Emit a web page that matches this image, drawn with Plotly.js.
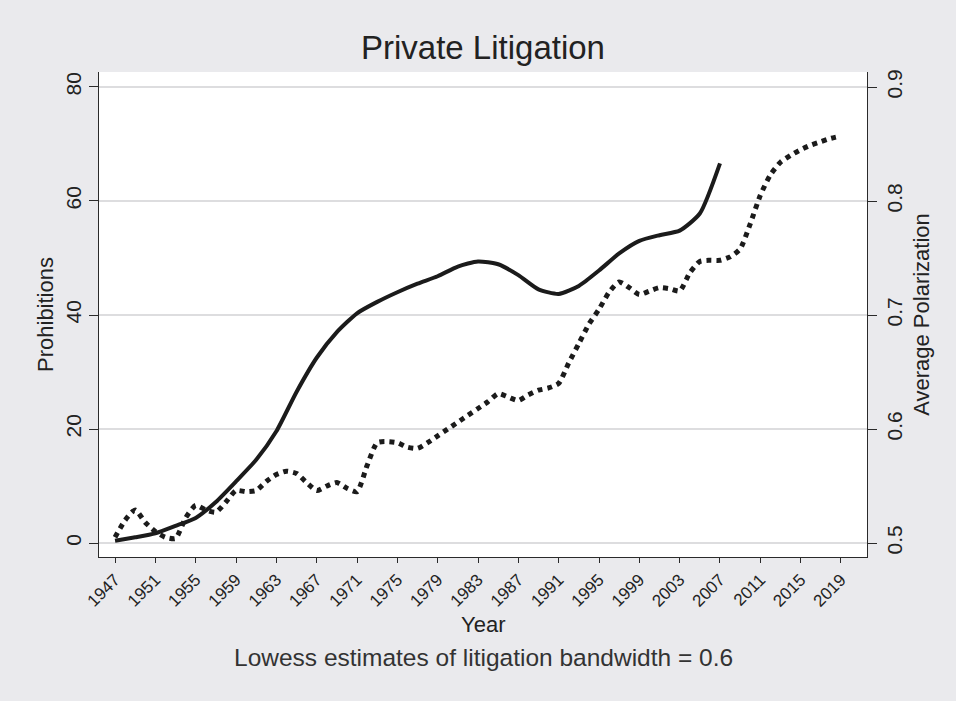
<!DOCTYPE html>
<html>
<head>
<meta charset="utf-8">
<script src="https://cdn.plot.ly/plotly-3.0.1.min.js"></script>
<style>
  html, body { margin: 0; padding: 0; background: #eaeaed; }
  #chart { width: 956px; height: 701px; }
</style>
</head>
<body>
<div id="chart"></div>
<script>
// Lowess estimate of private-litigation prohibitions (left axis)
const litigationYears = [1947,1949,1951,1953,1955,1957,1959,1961,1963,1965,1967,1969,1971,1973,1975,1977,1979,1981,1983,1985,1987,1989,1991,1993,1995,1997,1999,2001,2003,2005,2007];
const prohibitions = [0.4,1.0,1.7,3.0,4.4,7.2,10.8,14.6,19.6,26.5,32.5,37.0,40.3,42.3,44.0,45.5,46.8,48.5,49.4,48.9,47.0,44.5,43.7,45.1,47.8,50.8,53.0,54.0,54.8,57.8,66.6];

// Average polarization (right axis)
const polarizationYears = [1947,1948,1949,1950,1951,1952,1953,1954,1955,1956,1957,1958,1959,1960,1961,1962,1963,1964,1965,1966,1967,1968,1969,1970,1971,1972,1973,1974,1975,1976,1977,1978,1979,1980,1981,1982,1983,1984,1985,1986,1987,1988,1989,1990,1991,1992,1993,1994,1995,1996,1997,1998,1999,2000,2001,2002,2003,2004,2005,2006,2007,2008,2009,2010,2011,2012,2013,2014,2015,2016,2017,2018,2019];
const polarization = [0.505,0.520,0.529,0.518,0.510,0.505,0.504,0.522,0.533,0.529,0.527,0.536,0.546,0.545,0.546,0.554,0.560,0.563,0.561,0.553,0.546,0.550,0.553,0.548,0.545,0.568,0.588,0.589,0.588,0.584,0.583,0.588,0.594,0.600,0.606,0.612,0.618,0.624,0.631,0.628,0.625,0.630,0.634,0.636,0.640,0.658,0.675,0.692,0.705,0.720,0.729,0.724,0.718,0.721,0.724,0.723,0.721,0.737,0.747,0.748,0.748,0.751,0.758,0.780,0.805,0.823,0.834,0.840,0.845,0.849,0.852,0.855,0.857];

// Tick labels
const xTickYears = [1947,1951,1955,1959,1963,1967,1971,1975,1979,1983,1987,1991,1995,1999,2003,2007,2011,2015,2019];
const leftTicks = [0,20,40,60,80];
const rightTicks = [0.5,0.6,0.7,0.8,0.9];
const rightTickLabels = ['0.5','0.6','0.7','0.8','0.9'];

const axisColor = '#2a2a2a';
const textColor = '#222222';
const FONT = 'Liberation Sans, Arial, Helvetica, sans-serif';

const traces = [
  {
    x: litigationYears, y: prohibitions, yaxis: 'y', type: 'scatter', mode: 'lines',
    name: 'Prohibitions',
    line: {color: '#1b1b1b', width: 4, shape: 'spline', smoothing: 0.6},
    hoverinfo: 'x+y'
  },
  {
    x: polarizationYears, y: polarization, yaxis: 'y2', type: 'scatter', mode: 'lines',
    name: 'Average Polarization',
    line: {color: '#1b1b1b', width: 5, dash: '5px,5px', shape: 'spline', smoothing: 0.6},
    hoverinfo: 'x+y'
  }
];

const layout = {
  width: 956, height: 701,
  paper_bgcolor: '#eaeaed',
  plot_bgcolor: '#ffffff',
  margin: {l: 99, r: 89, t: 72, b: 144, pad: 0},
  showlegend: false,
  font: {family: FONT, color: textColor},
  title: {
    text: 'Private Litigation',
    font: {family: FONT, size: 33, color: textColor},
    x: 0.5, xanchor: 'center', xref: 'paper',
    y: 1 - 47/701, yanchor: 'middle', yref: 'container'
  },
  xaxis: {
    range: [1945.41, 2021.58],
    tickvals: xTickYears,
    ticktext: xTickYears.map(String),
    tickangle: -45,
    ticks: 'outside', ticklen: 5, tickwidth: 1.2, tickcolor: axisColor,
    showline: true, linecolor: axisColor, linewidth: 1.2,
    showgrid: false, zeroline: false,
    tickfont: {family: FONT, size: 17, color: textColor},
    automargin: false
  },
  yaxis: {
    range: [-2.456, 82.63],
    tickvals: leftTicks,
    tickangle: -90,
    ticks: 'outside', ticklen: 9, tickwidth: 1.2, tickcolor: axisColor,
    showline: true, linecolor: axisColor, linewidth: 1.2,
    showgrid: true, gridcolor: '#dddddf', gridwidth: 1.5,
    zeroline: false,
    tickfont: {family: FONT, size: 21, color: textColor},
    title: {text: 'Prohibitions', font: {family: FONT, size: 22, color: textColor}, standoff: 1},
    automargin: false
  },
  yaxis2: {
    overlaying: 'y', side: 'right',
    range: [0.48772, 0.91316],
    tickvals: rightTicks,
    ticktext: rightTickLabels,
    tickangle: -90,
    ticks: 'outside', ticklen: 9, tickwidth: 1.2, tickcolor: axisColor,
    showline: true, linecolor: axisColor, linewidth: 1.2,
    showgrid: false, zeroline: false,
    tickfont: {family: FONT, size: 21, color: textColor},
    title: {text: 'Average Polarization', font: {family: FONT, size: 22, color: textColor}, standoff: 8},
    automargin: false
  },
  annotations: [
    {
      text: 'Year',
      xref: 'paper', yref: 'paper', x: 0.5, y: (557 - 624) / 485,
      xanchor: 'center', yanchor: 'middle', showarrow: false,
      font: {family: FONT, size: 22, color: textColor}
    },
    {
      text: 'Lowess estimates of litigation bandwidth = 0.6',
      xref: 'paper', yref: 'paper', x: 0.5, y: (557 - 657) / 485,
      xanchor: 'center', yanchor: 'middle', showarrow: false,
      font: {family: FONT, size: 24.5, color: '#333333'}
    }
  ]
};

Plotly.newPlot('chart', traces, layout, {displayModeBar: false, responsive: false});
</script>
</body>
</html>
